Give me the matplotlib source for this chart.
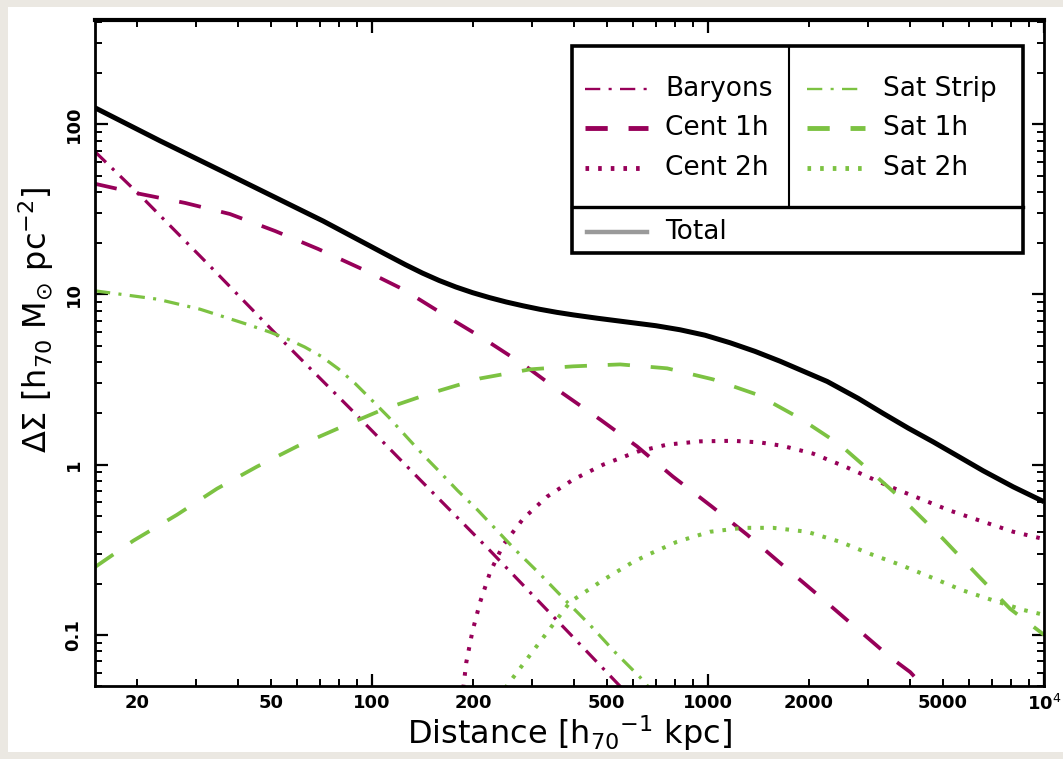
import matplotlib
matplotlib.use("Agg")
import matplotlib.pyplot as plt
from matplotlib.lines import Line2D
from matplotlib.patches import Rectangle
from matplotlib.ticker import FixedLocator, FixedFormatter, NullFormatter

plt.rcParams["lines.scale_dashes"] = False
plt.rcParams["font.family"] = ["DejaVu Sans"]
plt.rcParams["mathtext.fontset"] = "dejavusans"

# ---- profile components: projected distance [h70^-1 kpc] -> Delta Sigma [h70 Msun pc^-2]
r_total = [15, 23.4, 36.1, 71.6, 110, 125.9, 141.3, 158.5, 177.8, 199.5, 223.9, 251, 282,
           316, 355, 398, 468, 586, 700, 826, 980, 1164, 1380, 1640, 2264, 2800, 3320,
           3940, 4680, 5550, 6590, 8100, 10000]
ds_total = [125, 80, 52.6, 27.0, 17.2, 14.95, 13.36, 12.08, 11.06, 10.24, 9.58, 9.03, 8.57,
            8.18, 7.85, 7.58, 7.25, 6.85, 6.55, 6.2, 5.76, 5.2, 4.63, 4.05, 3.08, 2.45, 2.0,
            1.64, 1.36, 1.12, 0.92, 0.74, 0.605]

r_baryons = [15, 20.8, 33.4, 53.3, 86.1, 139, 222, 389, 555]
ds_baryons = [69.0, 36.9, 14.3, 5.53, 2.14, 0.816, 0.320, 0.101, 0.0485]

r_cent1h = [15, 20.4, 27.8, 37.8, 51.5, 69.2, 93.5, 124, 163, 214, 282, 363, 478, 615,
            787, 1028, 1309, 1663, 2128, 2742, 3485, 4000, 4430]
ds_cent1h = [44.7, 39.0, 34.5, 29.7, 23.6, 18.5, 14.1, 10.7, 7.65, 5.53, 3.88, 2.69, 1.84,
             1.28, 0.850, 0.566, 0.387, 0.258, 0.171, 0.111, 0.0739, 0.0603, 0.0485]

r_cent2h = [187, 191, 199, 210, 225, 246, 282, 332, 397, 488, 615, 755, 948, 1188,
            1430, 1663, 2056, 2560, 3480, 5260, 8100, 10000]
ds_cent2h = [0.0485, 0.069, 0.104, 0.156, 0.234, 0.338, 0.481, 0.648, 0.816, 1.0, 1.19,
             1.31, 1.37, 1.38, 1.35, 1.29, 1.16, 0.973, 0.742, 0.536, 0.403, 0.365]

r_satstrip = [15, 23, 30.8, 42.5, 49.8, 56.2, 63.1, 70.8, 79.4, 89.1, 100, 112.2, 130, 144,
              160, 180, 206, 233, 267, 316, 376, 446, 529, 628, 680]
ds_satstrip = [10.5, 9.38, 8.19, 6.68, 6.0, 5.46, 4.91, 4.32, 3.66, 3.0, 2.39, 1.90, 1.38,
               1.11, 0.897, 0.703, 0.543, 0.420, 0.316, 0.228, 0.160, 0.114, 0.079,
               0.0563, 0.047]

r_sat1h = [15, 19.5, 26.3, 34.6, 45.5, 59.9, 80.4, 108, 149, 210, 296, 397, 548, 756,
           1035, 1400, 1880, 2470, 3100, 4000, 5010, 6330, 7930, 10000]
ds_sat1h = [0.25, 0.357, 0.507, 0.722, 0.973, 1.28, 1.65, 2.11, 2.62, 3.21, 3.63, 3.78,
            3.88, 3.68, 3.17, 2.58, 1.87, 1.31, 0.885, 0.566, 0.366, 0.225, 0.142, 0.1]

r_sat2h = [249, 316, 389, 488, 599, 672, 809, 1014, 1271, 1563, 1972, 2472, 3036, 3730,
           4580, 5700, 7010, 8670, 10000]
ds_sat2h = [0.0485, 0.0906, 0.156, 0.21, 0.268, 0.299, 0.352, 0.403, 0.425, 0.425, 0.403,
            0.352, 0.299, 0.258, 0.219, 0.183, 0.16, 0.14, 0.131]

x_major = [100, 1000, 10000]
x_major_labels = ["100", "1000", "10$^4$"]
x_minor = [20, 30, 40, 50, 60, 70, 80, 90, 200, 300, 400, 500, 600, 700, 800, 900,
           2000, 3000, 4000, 5000, 6000, 7000, 8000, 9000]
x_minor_labels = ["20", "", "", "50", "", "", "", "", "200", "", "", "500", "", "", "", "",
                  "2000", "", "", "5000", "", "", "", ""]
y_major = [0.1, 1, 10, 100]
y_major_labels = ["0.1", "1", "10", "100"]

PURPLE = "#970059"
GREEN = "#7cc242"
DASHDOT = (0, (11, 6, 2.2, 6))
LONGDASH = (0, (16, 15))
DOTTED = (0, (2.6, 6.5))

fig = plt.figure(figsize=(10.63, 7.59), dpi=100, facecolor="#ebe8e2")
# white page inside a thin beige margin
fig.patches.append(Rectangle((8 / 1063, 7 / 759), 1 - 8 / 1063, 1 - 14 / 759,
                             transform=fig.transFigure, facecolor="white",
                             edgecolor="none", zorder=-10))
ax = fig.add_axes([95 / 1063, 1 - 686 / 759, 949 / 1063, 666 / 759])
ax.set_zorder(5)
ax.set_xscale("log")
ax.set_yscale("log")
ax.set_xlim(15, 1e4)
ax.set_ylim(0.05, 410)

lw = 2.3
ax.plot(r_baryons, ds_baryons, color=PURPLE, lw=lw, ls=DASHDOT)
ax.plot(r_cent1h, ds_cent1h, color=PURPLE, lw=lw + 0.4, ls=LONGDASH)
ax.plot(r_cent2h, ds_cent2h, color=PURPLE, lw=lw + 0.6, ls=DOTTED)
ax.plot(r_satstrip, ds_satstrip, color=GREEN, lw=lw, ls=DASHDOT)
ax.plot(r_sat1h, ds_sat1h, color=GREEN, lw=lw + 0.4, ls=LONGDASH)
ax.plot(r_sat2h, ds_sat2h, color=GREEN, lw=lw + 0.6, ls=DOTTED)
ax.plot(r_total, ds_total, color="black", lw=3.6, solid_capstyle="butt",
        solid_joinstyle="round")

# ---- ticks (inward on all four sides)
ax.xaxis.set_major_locator(FixedLocator(x_major))
ax.xaxis.set_major_formatter(FixedFormatter(x_major_labels))
ax.xaxis.set_minor_locator(FixedLocator(x_minor))
ax.xaxis.set_minor_formatter(FixedFormatter(x_minor_labels))
ax.yaxis.set_major_locator(FixedLocator(y_major))
ax.yaxis.set_major_formatter(FixedFormatter(y_major_labels))
ax.yaxis.set_minor_locator(FixedLocator(
    [f * d for d in (0.01, 0.1, 1, 10, 100) for f in range(2, 10)]))
ax.yaxis.set_minor_formatter(NullFormatter())
ax.tick_params(which="both", direction="in", top=True, right=True, color="black")
ax.tick_params(which="major", length=9, width=1.6)
ax.tick_params(which="minor", length=5, width=1.4)
ax.tick_params(axis="x", which="both", labelsize=13, pad=6)
ax.tick_params(axis="y", which="both", labelsize=13, pad=9)
for lab in ax.get_xticklabels(which="both"):
    lab.set_fontweight("bold")
for lab in ax.get_yticklabels():
    lab.set_fontweight("bold")
    lab.set_rotation(90)
    lab.set_va("center")
for side in ("left", "right", "bottom"):
    ax.spines[side].set_linewidth(2.0)
ax.spines["top"].set_linewidth(3.0)

ax.set_xlabel(r"Distance [h$_{70}$$^{-1}$ kpc]", fontsize=23, labelpad=-1)
ax.set_ylabel(r"$\Delta\Sigma$ [h$_{70}$ M$_{\odot}$ pc$^{-2}$]", fontsize=23)
ax.yaxis.set_label_coords(-0.041, 0.55)

# ---- boxed legend, two columns plus a row for the total
T = ax.transAxes
box_l, box_r, box_t, box_b = 0.5026, 0.9779, 0.961, 0.650
hdiv, vdiv = 0.719, 0.7313
ax.add_patch(Rectangle((box_l, box_b), box_r - box_l, box_t - box_b, transform=T,
                       facecolor="white", edgecolor="black", lw=2.6, zorder=5))
ax.add_line(Line2D([box_l, box_r], [hdiv, hdiv], transform=T, color="black", lw=2.4, zorder=6))
ax.add_line(Line2D([vdiv, vdiv], [hdiv, box_t], transform=T, color="black", lw=1.5, zorder=6))

rows = [0.896, 0.838, 0.778]
col1 = (0.516, 0.583, 0.6006)
col2 = (0.750, 0.811, 0.830)
entries = [
    (col1, rows[0], PURPLE, DASHDOT, lw - 0.6, "Baryons"),
    (col1, rows[1], PURPLE, LONGDASH, lw + 1.2, "Cent 1h"),
    (col1, rows[2], PURPLE, DOTTED, lw + 1.2, "Cent 2h"),
    (col2, rows[0], GREEN, DASHDOT, lw - 0.6, "Sat Strip"),
    (col2, rows[1], GREEN, LONGDASH, lw + 1.2, "Sat 1h"),
    (col2, rows[2], GREEN, DOTTED, lw + 1.2, "Sat 2h"),
]
for (x0, x1, xt), y, c, ls, w, name in entries:
    ax.add_line(Line2D([x0, x1], [y, y], transform=T, color=c, ls=ls, lw=w, zorder=7))
    ax.text(xt, y, name, transform=T, fontsize=19, va="center", ha="left", zorder=7)
ax.add_line(Line2D([0.518, 0.582], [0.682, 0.682], transform=T, color="#9a9a9a", lw=3.2, zorder=7))
ax.text(0.6006, 0.682, "Total", transform=T, fontsize=19, va="center", ha="left", zorder=7)

fig.savefig("out.png", dpi=100, facecolor=fig.get_facecolor())
